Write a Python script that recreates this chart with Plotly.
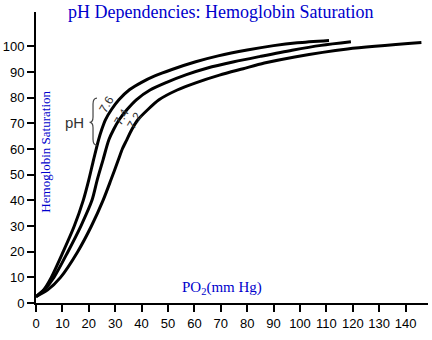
import plotly.graph_objects as go

# Data
po2_76 = [0, 2.8, 5.8, 10.3, 14.5, 17.9, 20, 21.8, 23.7, 24.9, 26.3, 28.6, 31.4, 35.5, 40, 45, 51.5, 60.5, 69, 80, 90, 99, 111]
sat_76 = [2.5, 5, 10, 20, 30, 40, 48, 55.8, 63.6, 67.6, 71.4, 75.4, 79.2, 83.2, 86, 88.5, 91, 94, 96.3, 98.6, 100.3, 101.4, 102.3]

po2_74 = [0, 3, 6.8, 12.1, 17, 21.2, 23.2, 25.4, 27.6, 29.4, 31.5, 34.5, 38, 43.2, 49.5, 57, 65, 75, 85, 97, 108, 119.3]
sat_74 = [2.5, 5, 10, 20, 30, 40, 48, 55.8, 63.6, 67.6, 71.4, 75.4, 79.2, 83, 86, 89, 91.6, 94, 96.1, 98.5, 100.4, 101.8]

po2_72 = [0, 4.3, 9.3, 15.8, 21, 25.4, 28.4, 31.2, 32.7, 34.4, 36.3, 38.6, 42.4, 46.6, 53.5, 60.5, 69.5, 78.5, 86.5, 98, 118, 146]
sat_72 = [2.5, 5, 10, 20, 30, 40, 48, 55.8, 60, 63.6, 67.6, 71.4, 75.4, 79.2, 83, 85.8, 88.8, 91.3, 93.5, 95.9, 99, 101.5]

ph_labels = ["7.6", "7.4", "7.2"]
ph_label_pos = [(26.8, 77.5), (32.4, 72.5), (37.2, 71.0)]

x_ticks = list(range(0, 150, 10))
y_ticks = list(range(0, 110, 10))

fig = go.Figure()
for xs, ys in [(po2_76, sat_76), (po2_74, sat_74), (po2_72, sat_72)]:
    fig.add_trace(go.Scatter(x=xs, y=ys, mode="lines",
                             line=dict(color="black", width=3, shape="spline", smoothing=0.8),
                             showlegend=False, hoverinfo="skip"))

for lab, (lx, ly) in zip(ph_labels, ph_label_pos):
    fig.add_annotation(x=lx, y=ly, xref="x", yref="y", text=lab, showarrow=False,
                       textangle=-60, font=dict(family="Liberation Sans", size=12, color="#333333"))

fig.add_annotation(x=14.5, y=70.4, xref="x", yref="y", text="pH", showarrow=False,
                   font=dict(family="Liberation Sans", size=15, color="#333333"))

# brace
fig.add_shape(type="path", xref="x", yref="y",
              path="M 23.1 79.8 Q 21.6 79.8 21.6 77.5 L 21.6 72.5 Q 21.6 70.4 20.3 70.4 "
                   "Q 21.6 70.4 21.6 68.3 L 21.6 63.8 Q 21.6 61.5 23.1 61.5",
              line=dict(color="#444444", width=1.2))

fig.add_annotation(x=0.47, y=1.0, xref="paper", yref="paper", yanchor="middle",
                   text="pH Dependencies: Hemoglobin Saturation", showarrow=False,
                   font=dict(family="Liberation Serif", size=18, color="#0000CC"))

fig.add_annotation(x=3.8, y=59, xref="x", yref="y", text="Hemoglobin Saturation",
                   showarrow=False, textangle=-90,
                   font=dict(family="Liberation Serif", size=13, color="#0000CC"))

fig.add_annotation(x=70.4, y=6.0, xref="x", yref="y", text="PO<sub>2</sub>(mm Hg)",
                   showarrow=False,
                   font=dict(family="Liberation Serif", size=15, color="#0000CC"))

fig.update_xaxes(range=[0, 148.5], tickvals=x_ticks, ticks="outside", ticklen=7, tickwidth=1.5,
                 tickcolor="black", showline=True, linecolor="black", linewidth=2,
                 showgrid=False, zeroline=False,
                 tickfont=dict(family="Liberation Sans", size=13, color="black"))
fig.update_yaxes(range=[0, 113.4], tickvals=y_ticks, ticks="outside", ticklen=7, tickwidth=1.5,
                 tickcolor="black", showline=True, linecolor="black", linewidth=2,
                 showgrid=False, zeroline=False,
                 tickfont=dict(family="Liberation Sans", size=13, color="black"))

fig.update_layout(width=432, height=340, margin=dict(l=36, r=4, t=12, b=37),
                  plot_bgcolor="white", paper_bgcolor="white")

fig.write_html("out.html")
